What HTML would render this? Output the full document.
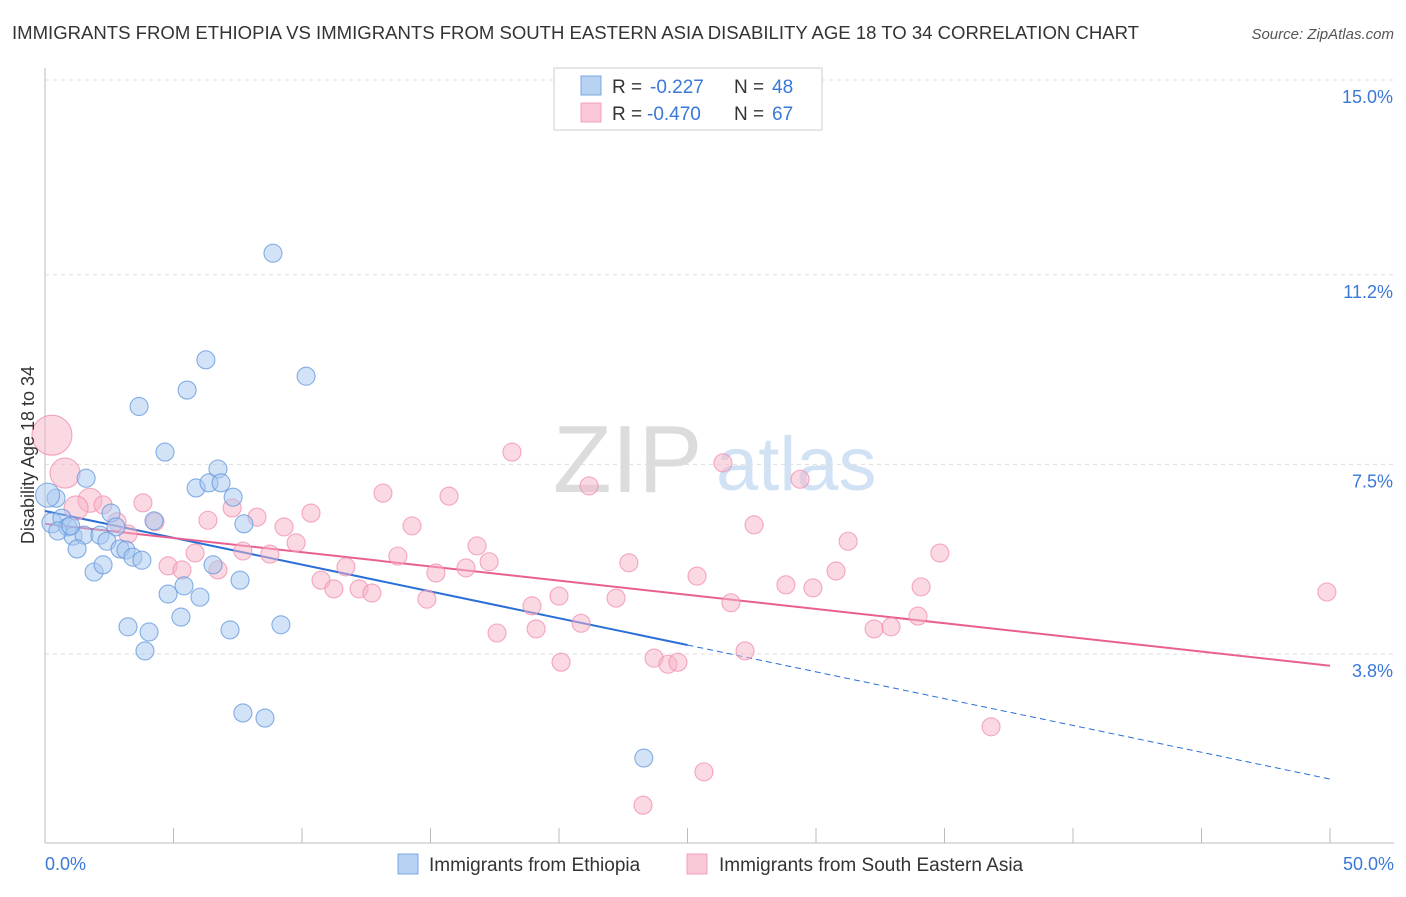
<!DOCTYPE html>
<html><head><meta charset="utf-8"><style>
body{margin:0;background:#fff;font-family:"Liberation Sans",sans-serif;}
svg text{font-family:"Liberation Sans",sans-serif;}
</style></head><body>
<svg width="1406" height="892">
<text x="12" y="39" font-size="18" fill="#333" textLength="1127" lengthAdjust="spacingAndGlyphs">IMMIGRANTS FROM ETHIOPIA VS IMMIGRANTS FROM SOUTH EASTERN ASIA DISABILITY AGE 18 TO 34 CORRELATION CHART</text>
<text x="1394" y="39" font-size="15" fill="#555" font-style="italic" text-anchor="end">Source: ZipAtlas.com</text>
<g><text x="553" y="492" font-size="96" fill="#dcdcdc" font-family="Liberation Serif">ZIP</text><text x="716" y="490" font-size="76" fill="#d2e2f5">atlas</text></g>
<g id="grid"></g><g id="axes"></g><g id="lines"></g><g id="pts"></g>
<g>
<rect x="554" y="68" width="268" height="62" fill="#fff" stroke="#ccc"/>
<rect x="581" y="76" width="20" height="19" fill="#b8d2f4" stroke="#7aa6e0"/>
<rect x="581" y="103" width="20" height="19" fill="#fbc8d8" stroke="#f0a0bc"/>
<text x="612" y="93" font-size="19" fill="#333">R =</text><text x="650" y="93" font-size="19" fill="#3a78d8">-0.227</text>
<text x="734" y="93" font-size="19" fill="#333">N =</text><text x="772" y="93" font-size="19" fill="#3a78d8">48</text>
<text x="612" y="120" font-size="19" fill="#333">R =</text><text x="647" y="120" font-size="19" fill="#3a78d8">-0.470</text>
<text x="734" y="120" font-size="19" fill="#333">N =</text><text x="772" y="120" font-size="19" fill="#3a78d8">67</text>
</g>
<g>
<rect x="398" y="854" width="20" height="20" fill="#b8d2f4" stroke="#7aa6e0"/>
<text x="429" y="871" font-size="19" fill="#333">Immigrants from Ethiopia</text>
<rect x="687" y="854" width="20" height="20" fill="#fbc8d8" stroke="#f0a0bc"/>
<text x="719" y="871" font-size="19" fill="#333">Immigrants from South Eastern Asia</text>
</g>
<text transform="translate(34,455) rotate(-90)" font-size="18" fill="#333" text-anchor="middle">Disability Age 18 to 34</text>
</svg>
<script>
const yTicks=[3.8,7.5,11.2,15.0];
const yTickLabels=["3.8%","7.5%","11.2%","15.0%"];
const xTickLabels=["0.0%","50.0%"];
const blueX=[8.87,6.26,10.16,3.66,5.53,4.67,1.60,6.73,5.88,6.38,6.85,7.32,0.43,0.27,0.66,0.89,2.57,2.76,4.24,7.74,1.09,1.52,2.14,2.41,1.25,2.92,3.15,3.42,3.77,1.91,2.26,6.54,5.41,7.59,4.79,6.03,5.29,3.23,4.05,7.20,9.18,3.89,7.70,8.56,23.3,0.1,0.5,1.0];
const blueY=[11.62,9.54,9.22,8.63,8.95,7.74,7.23,7.41,7.04,7.14,7.14,6.86,6.84,6.36,6.45,6.28,6.55,6.28,6.40,6.34,6.10,6.12,6.12,6.00,5.85,5.85,5.83,5.69,5.63,5.40,5.54,5.54,5.13,5.24,4.97,4.91,4.52,4.33,4.23,4.27,4.37,3.86,2.65,2.55,1.77,6.9,6.2,6.3];
const blueR=[9,9,9,9,9,9,9,9,9,9,9,9,9,10,9,9,9,9,9,9,9,9,9,9,9,9,9,9,9,9,9,9,9,9,9,9,9,9,9,9,9,9,9,9,9,12,9,9];
const pinkX=[0.27,0.78,1.75,1.21,2.26,3.81,2.80,3.23,4.28,6.34,7.28,8.25,9.30,10.35,9.77,7.70,8.75,5.84,4.79,5.33,6.73,10.74,11.24,11.71,12.22,12.72,13.15,13.73,14.28,14.86,15.21,15.72,16.38,16.81,17.28,17.59,18.17,18.95,19.11,20.00,20.08,20.86,21.17,22.22,22.72,23.27,23.70,24.24,24.63,25.37,25.64,26.38,26.69,27.24,27.59,28.83,29.38,29.88,30.78,31.25,32.26,32.92,33.97,34.09,34.82,36.81,49.88];
const pinkY=[8.07,7.33,6.80,6.65,6.71,6.75,6.38,6.14,6.38,6.41,6.65,6.47,6.28,6.55,5.97,5.81,5.75,5.77,5.52,5.44,5.44,5.24,5.07,5.50,5.07,4.99,6.94,5.71,6.30,4.87,5.38,6.88,5.48,5.91,5.60,4.21,7.74,4.74,4.29,4.93,3.64,4.40,7.08,4.89,5.58,0.85,3.72,3.60,3.64,5.32,1.50,7.53,4.80,3.86,6.32,5.15,7.21,5.09,5.42,6.00,4.29,4.33,4.54,5.11,5.77,2.38,5.01];
const pinkR=[20,15,12,12,9,9,9,9,9,9,9,9,9,9,9,9,9,9,9,9,9,9,9,9,9,9,9,9,9,9,9,9,9,9,9,9,9,9,9,9,9,9,9,9,9,9,9,9,9,9,9,9,9,9,9,9,9,9,9,9,9,9,9,9,9,9,9];
const blueTrend=[6.59,1.36], blueSolidEnd=25;
const pinkTrend=[6.34,3.57];
const NS="http://www.w3.org/2000/svg";
const X=v=>45+v/50*1285, Y=v=>654-(v-3.8)*51.25;
function mk(p,t,a){const e=document.createElementNS(NS,t);for(const k in a)e.setAttribute(k,a[k]);p.appendChild(e);return e;}
const grid=document.getElementById('grid'),axes=document.getElementById('axes'),lines=document.getElementById('lines'),pts=document.getElementById('pts');
yTicks.forEach((t,i)=>{
 const l=mk(grid,'line',{x1:45,x2:1394,y1:Y(t),y2:Y(t),stroke:'#ddd','stroke-dasharray':'4,4'});
 
 
 const tx=mk(grid,'text',{x:1393,y:Y(t)+23,'font-size':18,fill:'#3a78d8','text-anchor':'end'});tx.textContent=yTickLabels[i];
 
 
});
const ax=mk(axes,'line',{x1:45,x2:45,y1:68,y2:843,stroke:'#bbb'});


const bx=mk(axes,'line',{x1:45,x2:1394,y1:843,y2:843,stroke:'#bbb'});


for(let i=0;i<=10;i++){const t=mk(axes,'line',{x1:X(i*5),x2:X(i*5),y1:828,y2:843,stroke:'#bbb'});
 
 }
[[0,'start',45],[50,'end',1394]].forEach((d,i)=>{const t=mk(axes,'text',{x:d[2],y:870,'font-size':18,fill:'#3a78d8','text-anchor':d[1]});t.textContent=xTickLabels[i];
 
 });
function draw(xs,ys,rs,fill,stroke,name){xs.forEach((x,i)=>{const c=mk(pts,'circle',{cx:X(x),cy:Y(ys[i]),r:rs[i],fill:fill,'fill-opacity':0.5,stroke:stroke,'stroke-opacity':0.75,'stroke-width':1.1});
 
 });}
draw(pinkX,pinkY,pinkR,'#f8b4c8','#f08cae','sea-point');
draw(blueX,blueY,blueR,'#a8c8f0','#5f95dc','ethiopia-point');
const by=x=>blueTrend[0]+(blueTrend[1]-blueTrend[0])*x/50;
let l1=mk(lines,'line',{x1:X(0),y1:Y(by(0)),x2:X(blueSolidEnd),y2:Y(by(blueSolidEnd)),stroke:'#2a6fd6','stroke-width':2});


let l2=mk(lines,'line',{x1:X(blueSolidEnd),y1:Y(by(blueSolidEnd)),x2:X(50),y2:Y(by(50)),stroke:'#2a6fd6','stroke-width':1,'stroke-dasharray':'6,4'});


let l3=mk(lines,'line',{x1:X(0),y1:Y(pinkTrend[0]),x2:X(50),y2:Y(pinkTrend[1]),stroke:'#e8608f','stroke-width':2});


</script>
</body></html>
